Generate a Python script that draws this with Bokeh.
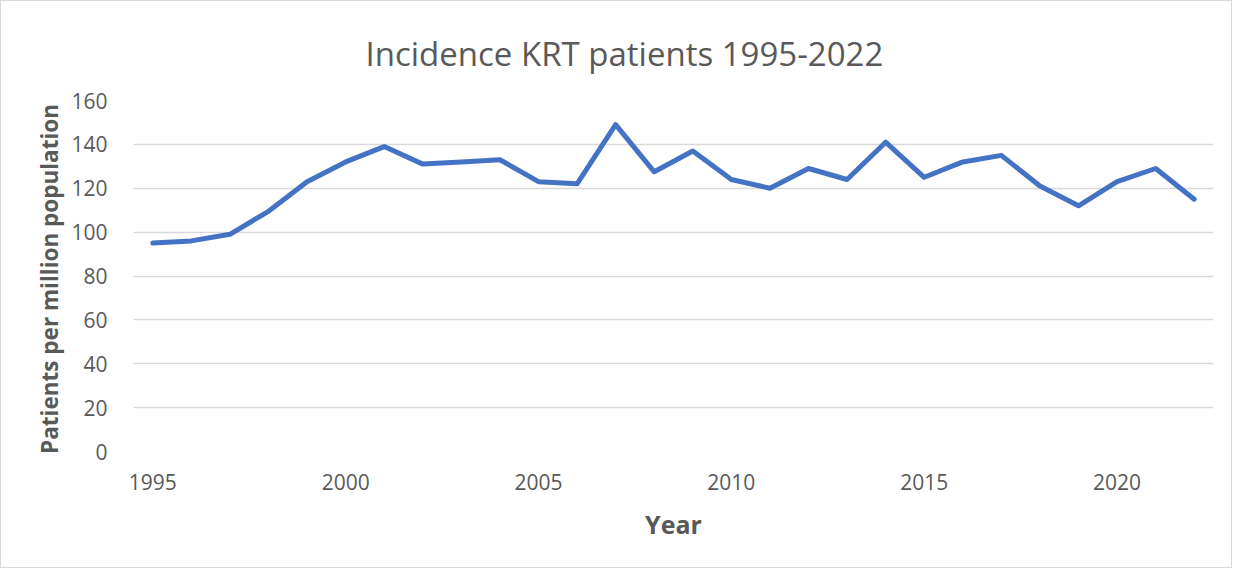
from bokeh.plotting import figure
from bokeh.models import FixedTicker, Range1d
from bokeh.embed import file_html
from bokeh.resources import INLINE

years = list(range(1995, 2023))
incidence = [95, 96, 99, 109.5, 123, 132, 139, 131, 132, 133, 123, 122, 149, 127.5,
             137, 124, 120, 129, 124, 141, 125, 132, 135, 121, 112, 123, 129, 115]
x_ticks = [1995, 2000, 2005, 2010, 2015, 2020]
y_ticks = [0, 20, 40, 60, 80, 100, 120, 140, 160]
title_text = "Incidence KRT patients 1995-2022"

FONT = "Open Sans"
GREY = "#595959"

p = figure(width=1232, height=568, output_backend="svg", toolbar_location=None,
           x_range=Range1d(1994.5, 2022.5), y_range=Range1d(0, 160),
           min_border_left=132, min_border_right=20, min_border_top=99, min_border_bottom=118,
           title=title_text)
p.styles = {"border": "1px solid #d9d9d9"}

p.line(years, incidence, line_color="#4472C4", line_width=5, line_cap="round", line_join="round")

p.title.align = "left"
p.title.text_font = FONT
p.title.text_font_size = "33px"
p.title.text_font_style = "normal"
p.title.text_color = GREY
p.title.standoff = 50
p.title.offset = 232

p.outline_line_color = None
p.xgrid.grid_line_color = None
p.ygrid.grid_line_color = "#d9d9d9"
p.ygrid.grid_line_width = 1.5
p.ygrid.ticker = FixedTicker(ticks=y_ticks)

p.xaxis.ticker = FixedTicker(ticks=x_ticks)
p.yaxis.ticker = FixedTicker(ticks=y_ticks)
for ax in (p.xaxis[0], p.yaxis[0]):
    ax.axis_line_color = None
    ax.major_tick_line_color = None
    ax.minor_tick_line_color = None
    ax.major_label_text_font = FONT
    ax.major_label_text_font_size = "21px"
    ax.major_label_text_color = GREY
    ax.axis_label_text_font = FONT
    ax.axis_label_text_font_style = "bold"
    ax.axis_label_text_color = GREY

p.xaxis.axis_label = "Year"
p.xaxis.axis_label_text_font_size = "25px"
p.xaxis.major_label_standoff = 16
p.xaxis.axis_label_standoff = 14

p.yaxis.axis_label = "Patients per million  population"
p.yaxis.axis_label_text_font_size = "22.5px"
p.yaxis.major_label_standoff = 20
p.yaxis.axis_label_standoff = 3

open("out.html", "w").write(file_html(p, INLINE))
